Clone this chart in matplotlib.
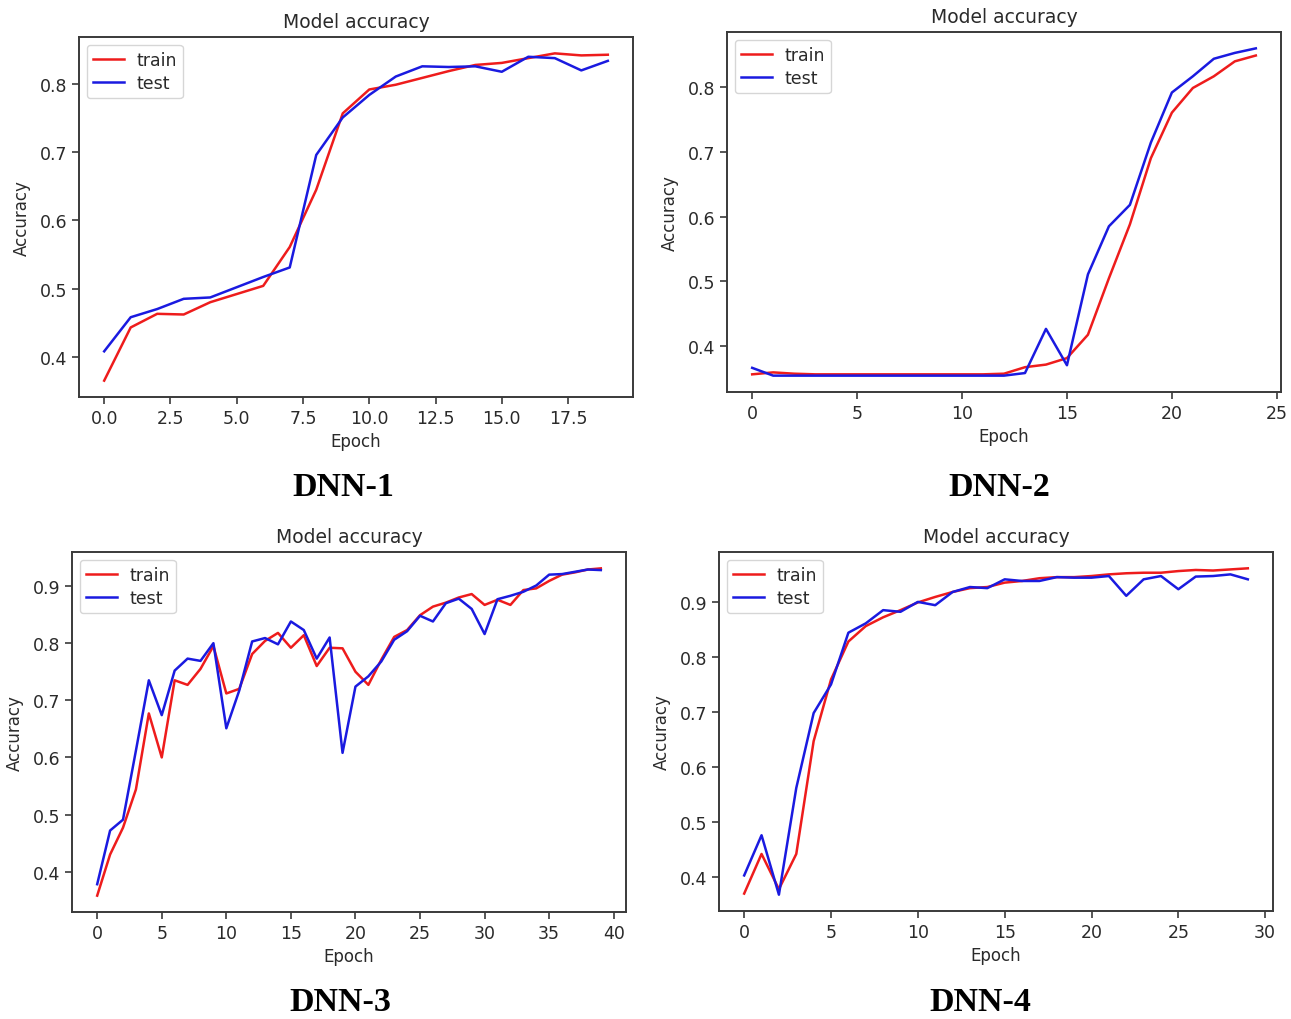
import matplotlib
matplotlib.use("Agg")
import matplotlib.pyplot as plt

# Training / validation accuracy per epoch for four DNN models
dnn1_train = [0.365, 0.443, 0.463, 0.462, 0.480, 0.492, 0.504, 0.561, 0.645, 0.757,
              0.792, 0.799, 0.809, 0.819, 0.828, 0.831, 0.838, 0.845, 0.842, 0.843]
dnn1_test = [0.408, 0.458, 0.470, 0.485, 0.487, 0.502, 0.517, 0.531, 0.696, 0.751,
             0.784, 0.811, 0.826, 0.825, 0.826, 0.818, 0.840, 0.838, 0.820, 0.834]

dnn2_train = [0.357, 0.360, 0.358, 0.357, 0.357, 0.357, 0.357, 0.357, 0.357, 0.357,
              0.357, 0.357, 0.358, 0.368, 0.372, 0.382, 0.418, 0.505, 0.588, 0.690,
              0.760, 0.798, 0.816, 0.839, 0.848]
dnn2_test = [0.367, 0.355, 0.355, 0.355, 0.355, 0.355, 0.355, 0.355, 0.355, 0.355,
             0.355, 0.355, 0.355, 0.359, 0.427, 0.371, 0.511, 0.585, 0.618, 0.714,
             0.791, 0.816, 0.843, 0.852, 0.859]

dnn3_train = [0.358, 0.430, 0.477, 0.544, 0.677, 0.600, 0.735, 0.727, 0.755, 0.795,
              0.712, 0.720, 0.781, 0.804, 0.818, 0.792, 0.814, 0.760, 0.792, 0.791,
              0.750, 0.727, 0.771, 0.811, 0.823, 0.849, 0.864, 0.871, 0.880, 0.886,
              0.867, 0.876, 0.867, 0.893, 0.896, 0.909, 0.920, 0.924, 0.929, 0.931]
dnn3_test = [0.378, 0.472, 0.491, 0.612, 0.735, 0.674, 0.752, 0.773, 0.769, 0.800,
             0.651, 0.717, 0.803, 0.809, 0.798, 0.838, 0.823, 0.773, 0.810, 0.608,
             0.724, 0.742, 0.768, 0.806, 0.821, 0.848, 0.838, 0.870, 0.878, 0.860,
             0.816, 0.877, 0.883, 0.890, 0.901, 0.920, 0.921, 0.925, 0.929, 0.928]

dnn4_train = [0.370, 0.442, 0.378, 0.442, 0.647, 0.759, 0.828, 0.856, 0.872, 0.885,
              0.899, 0.909, 0.918, 0.925, 0.927, 0.935, 0.938, 0.943, 0.945, 0.945,
              0.947, 0.950, 0.952, 0.953, 0.953, 0.956, 0.958, 0.957, 0.959, 0.961]
dnn4_test = [0.403, 0.476, 0.368, 0.562, 0.698, 0.750, 0.844, 0.861, 0.885, 0.882,
             0.900, 0.894, 0.918, 0.927, 0.925, 0.941, 0.938, 0.938, 0.945, 0.944,
             0.944, 0.947, 0.911, 0.941, 0.947, 0.923, 0.946, 0.947, 0.950, 0.941]

model_names = ["DNN-1", "DNN-2", "DNN-3", "DNN-4"]
series = [(dnn1_train, dnn1_test), (dnn2_train, dnn2_test),
          (dnn3_train, dnn3_test), (dnn4_train, dnn4_test)]

W, H = 1291, 1020
fig = plt.figure(figsize=(W / 100, H / 100), dpi=100)

# axes boxes in pixels: left, top, right, bottom
boxes = [(79, 38, 633, 398), (727, 33, 1281, 393),
         (72, 553, 626, 913), (719, 553, 1273, 912)]
label_pos = [(343, 487), (999, 487), (340, 1003), (980, 1003)]

text_col = "#2a2a2a"
spine_col = "#3a3a3a"

for (l, t, r, b), (train, test), name, (lx, ly) in zip(boxes, series, model_names, label_pos):
    ax = fig.add_axes([l / W, 1 - b / H, (r - l) / W, (b - t) / H])
    epochs = list(range(len(train)))
    ax.plot(epochs, train, color="#ee1c1c", lw=1.8, label="train")
    ax.plot(epochs, test, color="#1a1ae0", lw=1.8, label="test")
    ax.set_title("Model accuracy", fontsize=13.5, color=text_col, pad=7)
    ax.set_xlabel("Epoch", fontsize=12, color=text_col, labelpad=4)
    ax.set_ylabel("Accuracy", fontsize=12, color=text_col, labelpad=6)
    ax.tick_params(axis="both", labelsize=12.5, colors=spine_col, labelcolor=text_col,
                   length=5, width=1.2, direction="out", top=False, right=False)
    for sp in ax.spines.values():
        sp.set_color(spine_col)
        sp.set_linewidth(1.4)
    leg = ax.legend(loc="upper left", fontsize=12.5, handlelength=1.8,
                    framealpha=0.8, edgecolor="#cccccc", borderpad=0.35,
                    labelspacing=0.3, handletextpad=0.7, borderaxespad=0.45)
    for txt in leg.get_texts():
        txt.set_color(text_col)
    fig.text(lx / W, 1 - ly / H, name, ha="center", va="center",
             fontsize=24.5, fontweight="bold", family="Liberation Serif", color="black")

fig.savefig("out.png", dpi=100, facecolor="white")
